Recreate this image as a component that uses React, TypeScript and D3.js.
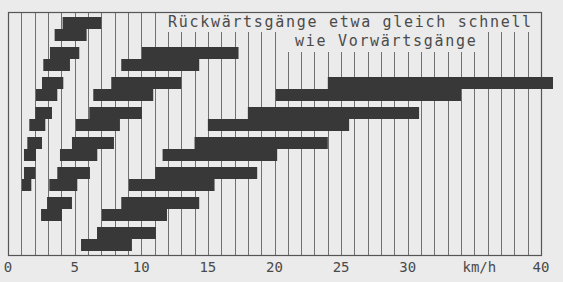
import React from 'react'
import * as d3 from 'd3'

// speed ranges in km/h, one entry per gear; each gear = upper + lower step
const gearSlot = [0, 1, 1, 2, 2, 2, 3, 3, 3, 4, 4, 4, 5, 5, 5, 6, 6, 7]
const upperFrom = [4.1, 3.15, 10.05, 2.55, 7.75, 24.0, 2.05, 6.1, 18.0, 1.45, 4.8, 14.0, 1.2, 3.7, 11.05, 2.93, 8.5, 6.68]
const upperTo = [7.0, 5.35, 17.3, 4.15, 13.0, 40.9, 3.3, 10.05, 30.85, 2.55, 7.95, 24.0, 2.05, 6.15, 18.7, 4.8, 14.35, 11.1]
const lowerFrom = [3.5, 2.65, 8.5, 2.1, 6.4, 20.1, 1.6, 5.1, 15.0, 1.2, 3.9, 11.6, 1.05, 3.1, 9.08, 2.48, 7.05, 5.48]
const lowerTo = [5.9, 4.65, 14.35, 3.7, 10.9, 34.0, 2.8, 8.4, 25.6, 2.1, 6.7, 20.2, 1.75, 5.2, 15.5, 4.05, 11.93, 9.3]

const slots = [0, 1, 2, 3, 4, 5, 6, 7]
const tickValues = [0, 5, 10, 15, 20, 25, 30, 35, 40]
const tickLabels = ['0', '5', '10', '15', '20', '25', '30', 'km/h', '40']
const noteLines = ['Rückwärtsgänge etwa gleich schnell', 'wie Vorwärtsgänge']

const W = 563
const H = 282
const BG = '#ebebeb'
const BAR = '#383838'
const GRID = '#707070'
const INK = '#4a4a4a'
const FONT = '"DejaVu Sans Mono", monospace'

export default function App() {
  const left = 8, right = 541, top = 12, bottom = 255

  const x = d3.scaleLinear().domain([0, 40]).range([left, right])
  const y = d3.scaleBand<number>()
    .domain(slots)
    .range([14, 254])
    .paddingInner(0.2)
    .paddingOuter(0.1)
  const half = y.bandwidth() / 2

  const gridVals = d3.range(1, 40)

  return (
    <svg width={W} height={H} style={{ position: 'absolute', left: 0, top: 0, display: 'block' }}>
      <rect width={W} height={H} fill={BG} />

      {/* grid */}
      {gridVals.map(v => (
        <line key={v} x1={Math.round(x(v)) + 0.5} x2={Math.round(x(v)) + 0.5}
          y1={top} y2={bottom} stroke={GRID} strokeWidth={1} />
      ))}

      {/* blank area behind the note */}
      <rect x={163} y={top + 1} width={373} height={19} fill={BG} />
      <rect x={287} y={top + 1} width={196} height={39} fill={BG} />

      {/* frame */}
      <rect x={left + 0.5} y={top + 0.5} width={right - left} height={bottom - top}
        fill="none" stroke="#555" strokeWidth={1.2} />

      {/* bars */}
      {gearSlot.map((s, i) => (
        <g key={i} fill={BAR}>
          <rect x={x(upperFrom[i])} y={y(s)!} width={x(upperTo[i]) - x(upperFrom[i])} height={half} />
          <rect x={x(lowerFrom[i])} y={y(s)! + half} width={x(lowerTo[i]) - x(lowerFrom[i])} height={half} />
        </g>
      ))}

      {/* note */}
      <text x={168} y={27} fontFamily={FONT} fontSize={15} letterSpacing={1.7} fill={INK}>{noteLines[0]}</text>
      <text x={295} y={46} fontFamily={FONT} fontSize={15} letterSpacing={1.7} fill={INK}>{noteLines[1]}</text>

      {/* axis labels */}
      {tickValues.map((v, i) => (
        <text key={v} x={x(v) + (tickLabels[i] === 'km/h' ? 5 : 0)} y={272} textAnchor="middle"
          fontFamily={FONT} fontSize={14} fill={INK}>{tickLabels[i]}</text>
      ))}
    </svg>
  )
}
